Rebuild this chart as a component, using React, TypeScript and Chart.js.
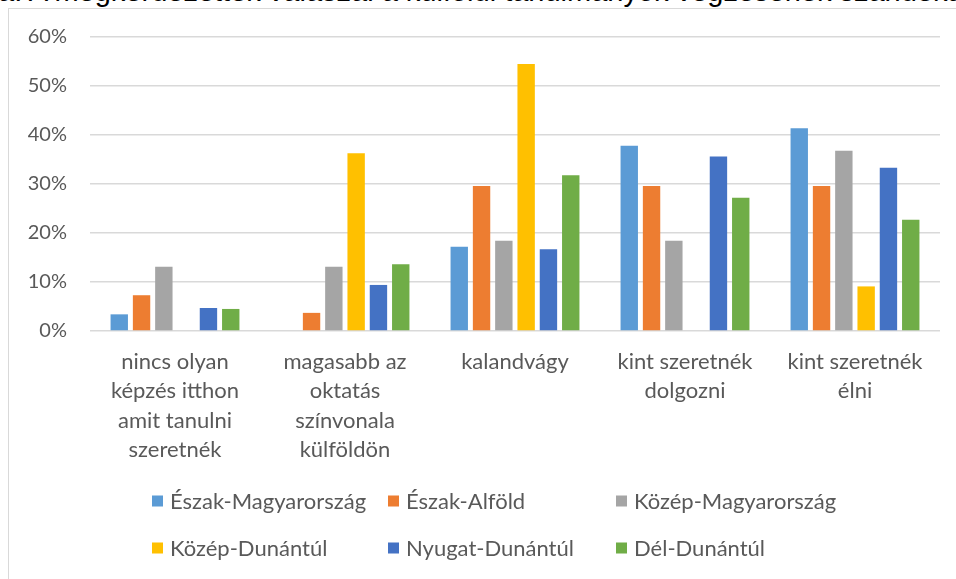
import React, { useEffect, useRef } from "react";
import { Chart, registerables } from "chart.js";

Chart.register(...registerables);

const categories: (string | string[])[] = [
  ["nincs olyan", "képzés itthon", "amit tanulni", "szeretnék"],
  ["magasabb az", "oktatás", "színvonala", "külföldön"],
  "kalandvágy",
  ["kint szeretnék", "dolgozni"],
  ["kint szeretnék", "élni"],
];

const seriesNames = [
  "Észak-Magyarország",
  "Észak-Alföld",
  "Közép-Magyarország",
  "Közép-Dunántúl",
  "Nyugat-Dunántúl",
  "Dél-Dunántúl",
];

const eszakMagyarorszag = [3.4, 0, 17.2, 37.8, 41.4];
const eszakAlfold = [7.3, 3.7, 29.6, 29.6, 29.6];
const kozepMagyarorszag = [13.1, 13.1, 18.4, 18.4, 36.8];
const kozepDunantul = [0, 36.3, 54.5, 0, 9.1];
const nyugatDunantul = [4.7, 9.4, 16.7, 35.6, 33.3];
const delDunantul = [4.5, 13.6, 31.8, 27.2, 22.7];

const seriesValues = [
  eszakMagyarorszag,
  eszakAlfold,
  kozepMagyarorszag,
  kozepDunantul,
  nyugatDunantul,
  delDunantul,
];

const colors = ["#5B9BD5", "#ED7D31", "#A5A5A5", "#FFC000", "#4472C4", "#70AD47"];

const yTicks = [0, 10, 20, 30, 40, 50, 60];

const titleText =
  "a: A megkérdezettek válaszai a külföldi tanulmányok végzésének szándékáról";

const FONT = "Lato, 'Noto Sans', sans-serif";
const TEXT_COLOR = "#595959";

const gridLegend = {
  id: "gridLegend",
  afterDraw(chart: any) {
    const ctx = chart.ctx;
    const colX = [143, 379, 607];
    const rowY = [492, 539];
    ctx.save();
    ctx.font = `22px ${FONT}`;
    ctx.textBaseline = "middle";
    ctx.textAlign = "left";
    chart.data.datasets.forEach((ds: any, i: number) => {
      const x = colX[i % 3];
      const y = rowY[Math.floor(i / 3)];
      ctx.fillStyle = ds.backgroundColor;
      ctx.fillRect(x, y - 5.5, 11, 11);
      ctx.fillStyle = TEXT_COLOR;
      ctx.fillText(ds.label, x + 18, y + 1);
    });
    ctx.restore();
  },
};

export default function App() {
  const ref = useRef<HTMLCanvasElement>(null);

  useEffect(() => {
    if (!ref.current) return;
    const chart = new Chart(ref.current, {
      type: "bar",
      data: {
        labels: categories,
        datasets: seriesNames.map((name, i) => ({
          label: name,
          data: seriesValues[i],
          backgroundColor: colors[i],
          borderWidth: 0,
          categoryPercentage: 0.787,
          barPercentage: 0.78,
        })),
      },
      options: {
        animation: false,
        responsive: false,
        layout: { padding: { left: 0, right: 16, top: 28, bottom: 0 } },
        plugins: {
          legend: { display: false },
          tooltip: { enabled: false },
          title: { display: false },
        },
        scales: {
          x: {
            grid: { display: false, drawTicks: false },
            border: { display: false },
            ticks: {
              color: TEXT_COLOR,
              font: { family: FONT, size: 22, lineHeight: 1.34 },
              padding: 16,
              maxRotation: 0,
              autoSkip: false,
            },
            afterFit(scale: any) {
              scale.height = 248;
            },
          },
          y: {
            min: 0,
            max: 60,
            afterBuildTicks(scale: any) {
              scale.ticks = yTicks.map((v) => ({ value: v }));
            },
            grid: {
              color: "#d9d9d9",
              lineWidth: 1.5,
              drawTicks: true,
              tickLength: 19,
              tickColor: "rgba(0,0,0,0)",
            },
            border: { display: false },
            ticks: {
              color: TEXT_COLOR,
              font: { family: FONT, size: 20 },
              padding: 4,
              callback: (v: any) => `${v}%`,
            },
            afterFit(scale: any) {
              scale.width = 81;
            },
          },
        },
      },
      plugins: [gridLegend],
    });
    return () => chart.destroy();
  }, []);

  return (
    <div
      style={{
        position: "fixed",
        left: 0,
        top: 0,
        width: 956,
        height: 579,
        overflow: "hidden",
        background: "#fff",
      }}
    >
      <div
        style={{
          position: "absolute",
          left: -2,
          top: -24,
          whiteSpace: "nowrap",
          fontFamily: "'Liberation Sans', Arial, sans-serif",
          fontSize: 29,
          lineHeight: "30px",
          color: "#000",
        }}
      >
        {titleText}
      </div>
      <div
        style={{
          position: "absolute",
          left: 8,
          top: 8,
          width: 948,
          height: 571,
          borderLeft: "1px solid #d9d9d9",
          borderTop: "1px solid #d9d9d9",
          boxSizing: "border-box",
          background: "#fff",
        }}
      >
        <canvas ref={ref} width={947} height={570} style={{ display: "block" }} />
      </div>
    </div>
  );
}
